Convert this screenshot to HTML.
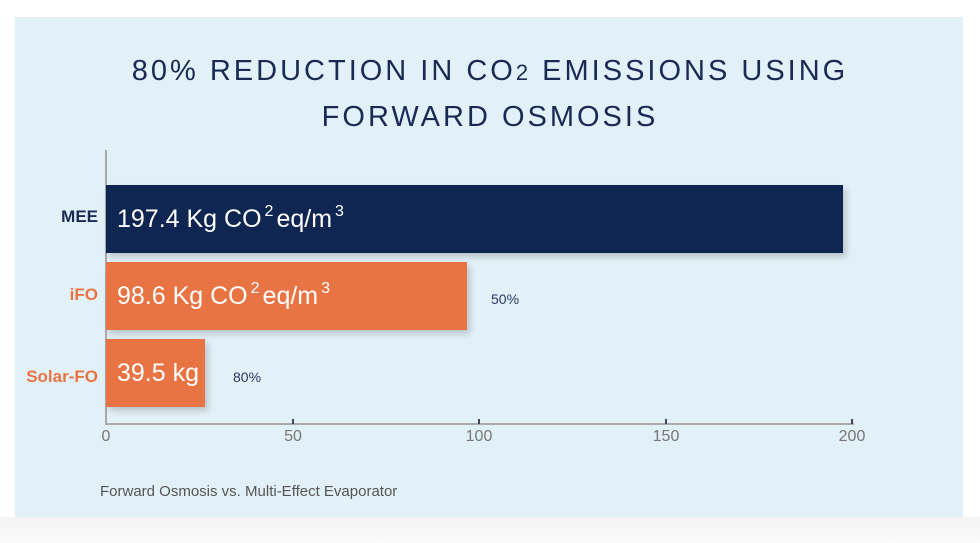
<!DOCTYPE html>
<html><head><style>
body{margin:0;width:980px;height:543px;background:#fff;position:relative;overflow:hidden;font-family:"Liberation Sans",sans-serif}
.panel{position:absolute;left:15px;top:17px;width:948px;height:500px;background:#e2f0f7}
.bottom{position:absolute;left:0;top:517px;width:980px;height:26px;background:linear-gradient(#f4f4f4,#fafafa)}
.t{position:absolute;left:0;width:980px;text-align:center;color:#1a2a55;font-size:29px;letter-spacing:3px}
.bar{position:absolute;left:106px;height:68px;box-shadow:3px 4px 6px rgba(0,0,0,0.18);color:#fff;font-size:25px;line-height:68px;padding-left:11px;box-sizing:border-box;white-space:nowrap}
.lab{position:absolute;font-size:17px;font-weight:bold;text-align:right;right:882px}
.pct{position:absolute;font-size:14px;color:#2a3a60}
.tk{position:absolute;top:428px;font-size:16px;color:#777;width:40px;text-align:center}
sup{font-size:16px;line-height:0;vertical-align:0;position:relative;top:-11px;margin:0 3px}
</style></head><body>
<div class="panel"></div>
<div class="bottom"></div>
<div class="t" style="top:55px">80% REDUCTION IN CO<span style="font-size:22px">2</span> EMISSIONS USING</div>
<div class="t" style="top:101px">FORWARD OSMOSIS</div>
<div style="position:absolute;left:105px;top:150px;width:2px;height:275px;background:#aaa"></div>
<div style="position:absolute;left:105px;top:423px;width:749px;height:2px;background:#aaa"></div>
<div style="position:absolute;left:292px;top:419px;width:2px;height:5px;background:#445"></div>
<div style="position:absolute;left:478px;top:419px;width:2px;height:5px;background:#445"></div>
<div style="position:absolute;left:665px;top:419px;width:2px;height:5px;background:#445"></div>
<div style="position:absolute;left:851px;top:419px;width:2px;height:5px;background:#445"></div>
<div class="bar" style="top:185px;width:737px;background:#0f2552">197.4 Kg CO<sup>2</sup>eq/m<sup>3</sup></div>
<div class="bar" style="top:262px;width:361px;background:#e87444">98.6 Kg CO<sup>2</sup>eq/m<sup>3</sup></div>
<div class="bar" style="top:339px;width:99px;background:#e87444">39.5 kg</div>
<div class="lab" style="top:207px;color:#1a2a55">MEE</div>
<div class="lab" style="top:285px;color:#e87444">iFO</div>
<div class="lab" style="top:367px;color:#e87444">Solar-FO</div>
<div class="pct" style="left:491px;top:291px">50%</div>
<div class="pct" style="left:233px;top:369px">80%</div>
<div class="tk" style="left:86px">0</div>
<div class="tk" style="left:273px">50</div>
<div class="tk" style="left:459px">100</div>
<div class="tk" style="left:646px">150</div>
<div class="tk" style="left:832px">200</div>
<div style="position:absolute;left:100px;top:483px;font-size:15px;color:#555">Forward Osmosis vs. Multi-Effect Evaporator</div>
</body></html>
